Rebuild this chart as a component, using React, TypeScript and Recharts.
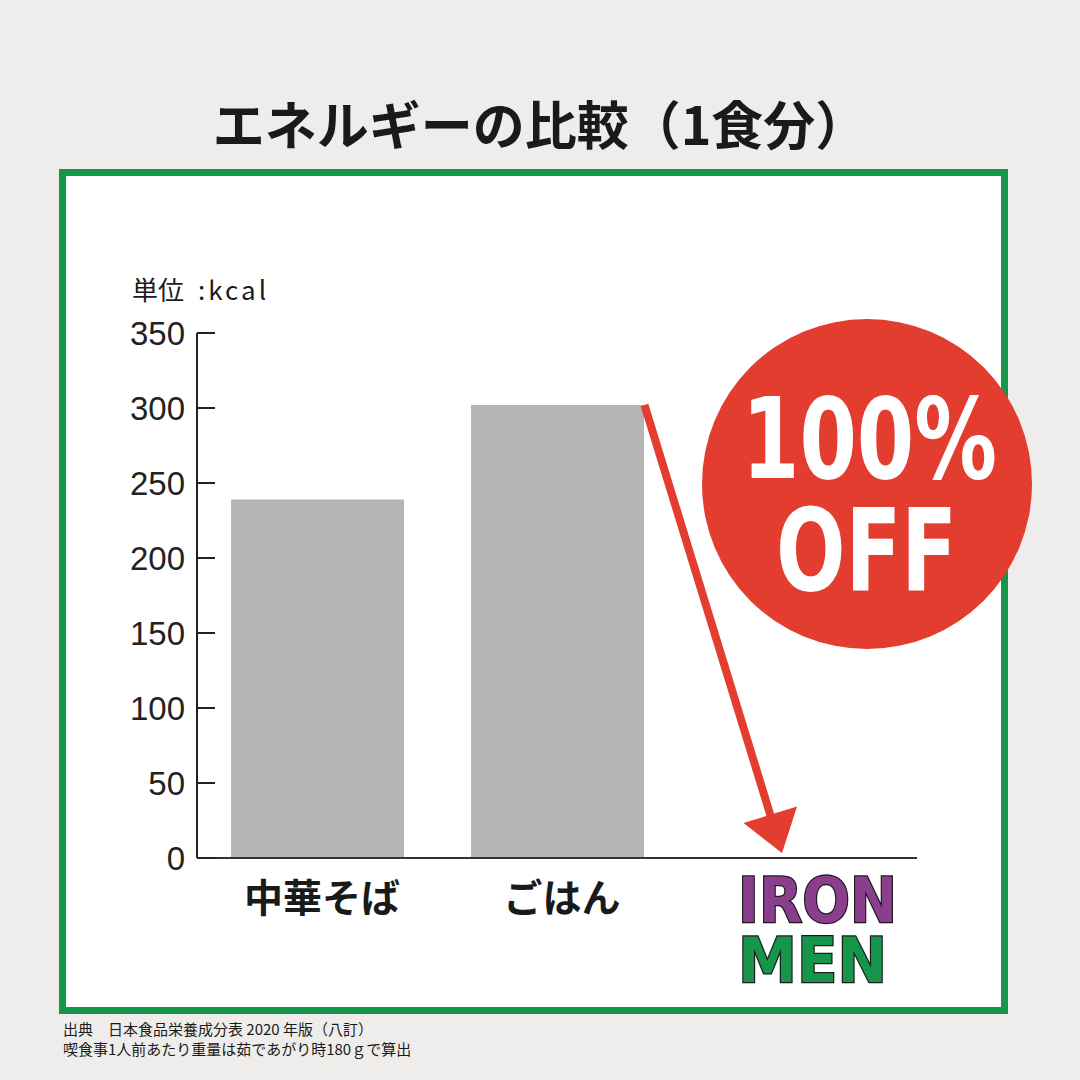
import React from 'react'
import { BarChart, Bar, XAxis, YAxis } from 'recharts'

// energy per serving, kcal
const categories = ['中華そば', 'ごはん', 'IRON MEN']
const kcalValues = [239, 302, 0]
const yTicks = [0, 50, 100, 150, 200, 250, 300, 350]

const title = 'エネルギーの比較（1食分）'
const unitLabel = ['単位', ':kcal']
const badgeLines = ['100%', 'OFF']
const sourceLines = ['出典　日本食品栄養成分表 2020 年版（八訂）', '喫食事1人前あたり重量は茹であがり時180ｇで算出']

const data = categories.map((name, i) => ({ name, kcal: kcalValues[i] }))

const W = 1080
const H = 1080
const MARGIN = { top: 333, right: 163, bottom: 162, left: 137 }
const Y_AXIS_W = 60
const X_AXIS_H = 60
const BAR_SIZE = 173
const Y_MAX = 350

const plotLeft = MARGIN.left + Y_AXIS_W
const plotRight = W - MARGIN.right
const plotTop = MARGIN.top
const plotBottom = H - MARGIN.bottom - X_AXIS_H
const band = (plotRight - plotLeft) / categories.length
const xCenter = (i: number) => plotLeft + band * (i + 0.5)
const yPos = (v: number) => plotBottom - (v / Y_MAX) * (plotBottom - plotTop)

const GREEN = '#16964a'
const RED = '#e33d2f'
const PURPLE = '#8b3e8c'
const JP = '"Noto Sans CJK JP", "Noto Sans", sans-serif'

function YTick(props: any) {
  const { x, y, payload } = props
  return (
    <g>
      <line x1={x} x2={x + 18} y1={y} y2={y} stroke="#222" strokeWidth={2} />
      <text x={x - 12} y={y} textAnchor="end" dominantBaseline="central" fontSize={33} fill="#222" fontFamily='"Liberation Sans", Arial, sans-serif'>
        {payload.value}
      </text>
    </g>
  )
}

function XTick(props: any) {
  const { x, y, payload } = props
  if (payload.value === 'IRON MEN') {
    const [a, b] = payload.value.split(' ')
    const cx = x + 20
    return (
      <g fontFamily='"DejaVu Sans", sans-serif' fontWeight="bold" fontSize={62} stroke="#1b1b1b" strokeWidth={2.5} paintOrder="stroke">
        <text x={cx - 79} y={y + 64} fill={PURPLE} textLength={159} lengthAdjust="spacingAndGlyphs">{a}</text>
        <text x={cx - 79} y={y + 124} fill={GREEN} textLength={149} lengthAdjust="spacingAndGlyphs">{b}</text>
      </g>
    )
  }
  return (
    <text x={x + 5} y={y + 37} textAnchor="middle" dominantBaseline="central" fontSize={39} fontWeight="bold" fill="#1a1a1a" fontFamily={JP}>
      {payload.value}
    </text>
  )
}

function Overlay() {
  // arrow from top-right corner of the ごはん bar down to zero of the last category
  const sx = xCenter(1) + BAR_SIZE / 2 + 1
  const sy = yPos(kcalValues[1])
  const tx = xCenter(2) - 15
  const ty = yPos(0) - 5
  const len = Math.hypot(tx - sx, ty - sy)
  const ux = (tx - sx) / len
  const uy = (ty - sy) / len
  const bx = tx - ux * 40
  const by = ty - uy * 40
  const nx = -uy
  const ny = ux
  return (
    <svg width={W} height={H} style={{ position: 'absolute', left: 0, top: 0 }}>
      <line x1={sx} y1={sy} x2={bx + ux * 4} y2={by + uy * 4} stroke={RED} strokeWidth={8} />
      <polygon points={`${tx},${ty} ${bx + nx * 28},${by + ny * 28} ${bx - nx * 28},${by - ny * 28}`} fill={RED} />
      <circle cx={867} cy={484} r={165} fill={RED} />
      <g fill="#fff" fontFamily='"DejaVu Sans", sans-serif' fontWeight="bold">
        <text x={742} y={478} fontSize={112} textLength={255} lengthAdjust="spacingAndGlyphs">{badgeLines[0]}</text>
        <text x={776} y={590} fontSize={114} textLength={181} lengthAdjust="spacingAndGlyphs">{badgeLines[1]}</text>
      </g>
    </svg>
  )
}

export default function App() {
  return (
    <div style={{ position: 'relative', width: W, height: H, background: '#eeedeb', overflow: 'hidden' }}>
      <style>{'body{margin:0}'}</style>
      <div style={{ position: 'absolute', left: 0, top: 90, width: W, textAlign: 'center', fontFamily: JP, fontWeight: 700, fontSize: 52, lineHeight: '66px', color: '#1a1a1a' }}>
        {title}
      </div>
      <div style={{ position: 'absolute', left: 59, top: 169, width: 949, height: 845, border: `7px solid ${GREEN}`, boxSizing: 'border-box', background: '#fff' }} />
      <div style={{ position: 'absolute', left: 132, top: 273, fontFamily: JP, fontSize: 26, lineHeight: '32px', color: '#1a1a1a', whiteSpace: 'nowrap' }}>
        {unitLabel[0]}
        <span style={{ marginLeft: 14, letterSpacing: 3 }}>{unitLabel[1]}</span>
      </div>
      <div style={{ position: 'absolute', left: 63, top: 1019, fontFamily: JP, fontSize: 15, lineHeight: '20px', color: '#1a1a1a', whiteSpace: 'nowrap' }}>
        {sourceLines.map((s) => <div key={s}>{s}</div>)}
      </div>
      <div style={{ position: 'absolute', left: 0, top: 0 }}>
        <BarChart width={W} height={H} data={data} margin={MARGIN}>
          <XAxis dataKey="name" height={X_AXIS_H} axisLine={{ stroke: '#333', strokeWidth: 2 }} tickLine={false} tickSize={0} tickMargin={0} tick={<XTick />} interval={0} />
          <YAxis width={Y_AXIS_W} domain={[0, Y_MAX]} ticks={yTicks} axisLine={{ stroke: '#222', strokeWidth: 2 }} tickLine={false} tickSize={0} tickMargin={0} tick={<YTick />} interval={0} />
          <Bar dataKey="kcal" fill="#b5b5b5" barSize={BAR_SIZE} isAnimationActive={false} />
        </BarChart>
      </div>
      <Overlay />
    </div>
  )
}
